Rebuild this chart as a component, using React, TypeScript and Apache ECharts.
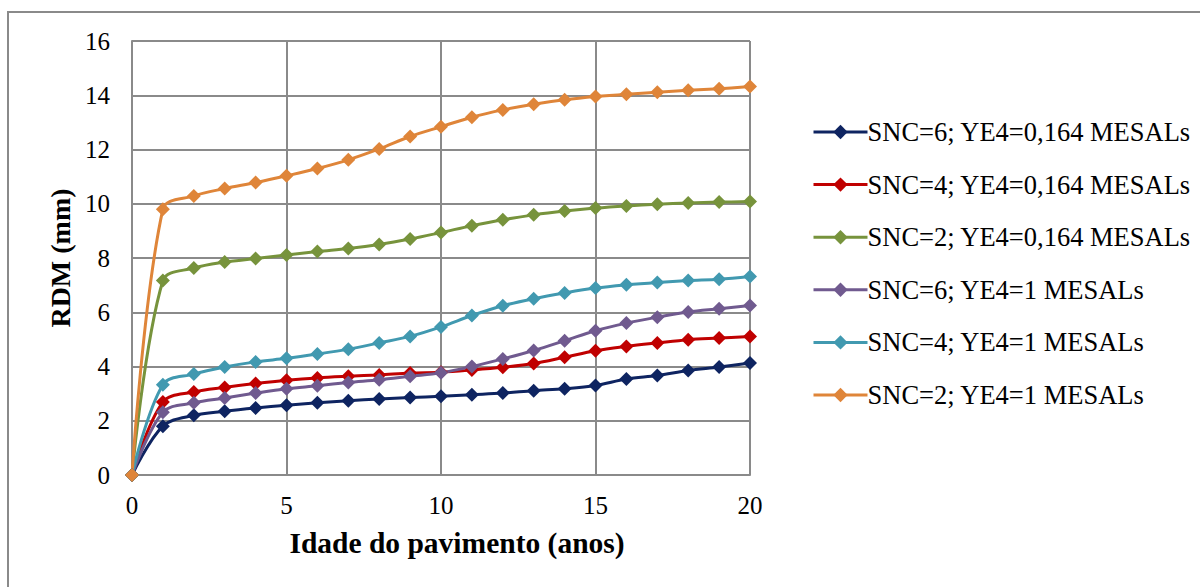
import React, { useEffect, useRef } from "react";
import * as echarts from "echarts";

// Idade do pavimento (anos)
const years = [0, 1, 2, 3, 4, 5, 6, 7, 8, 9, 10, 11, 12, 13, 14, 15, 16, 17, 18, 19, 20];

// RDM (mm) por cenário
const snc6Low = [0, 1.8, 2.2, 2.35, 2.47, 2.57, 2.66, 2.74, 2.8, 2.86, 2.9, 2.96, 3.02, 3.11, 3.18, 3.3, 3.54, 3.67, 3.85, 3.98, 4.13];
const snc4Low = [0, 2.69, 3.06, 3.23, 3.37, 3.49, 3.58, 3.64, 3.69, 3.76, 3.79, 3.87, 3.97, 4.11, 4.34, 4.58, 4.74, 4.87, 4.99, 5.05, 5.11];
const snc2Low = [0, 7.17, 7.63, 7.85, 7.98, 8.11, 8.24, 8.35, 8.5, 8.7, 8.94, 9.19, 9.41, 9.59, 9.73, 9.84, 9.92, 9.98, 10.03, 10.06, 10.08];
const snc6High = [0, 2.31, 2.66, 2.84, 3.02, 3.18, 3.29, 3.41, 3.51, 3.64, 3.77, 4.0, 4.28, 4.59, 4.95, 5.32, 5.6, 5.82, 6.01, 6.13, 6.25];
const snc4High = [0, 3.33, 3.72, 3.98, 4.17, 4.3, 4.46, 4.64, 4.87, 5.11, 5.46, 5.88, 6.24, 6.5, 6.71, 6.89, 7.01, 7.1, 7.17, 7.22, 7.32];
const snc2High = [0, 9.8, 10.29, 10.56, 10.78, 11.03, 11.3, 11.62, 12.02, 12.48, 12.84, 13.19, 13.46, 13.67, 13.83, 13.95, 14.04, 14.11, 14.18, 14.24, 14.32];

const seriesNames = [
  "SNC=6; YE4=0,164 MESALs",
  "SNC=4; YE4=0,164 MESALs",
  "SNC=2; YE4=0,164 MESALs",
  "SNC=6; YE4=1 MESALs",
  "SNC=4; YE4=1 MESALs",
  "SNC=2; YE4=1 MESALs",
];
const seriesValues = [snc6Low, snc4Low, snc2Low, snc6High, snc4High, snc2High];
const seriesColors = ["#0E2461", "#C00000", "#77933C", "#705A8F", "#4199B0", "#DF8539"];

const FONT = "Liberation Serif";
const GRID = "#8A8A8A";

export default function App() {
  const ref = useRef<HTMLDivElement>(null);

  useEffect(() => {
    if (!ref.current) return;
    const chart = echarts.init(ref.current, undefined, { renderer: "svg" });

    const series = seriesNames.map((name, i) => ({
      name,
      type: "line",
      data: years.map((x, j) => [x, seriesValues[i][j]]),
      smooth: 0.35,
      symbol: "diamond",
      symbolSize: 14,
      lineStyle: { width: 3, color: seriesColors[i] },
      itemStyle: { color: seriesColors[i] },
      emphasis: { disabled: true },
    }));

    chart.setOption({
      animation: false,
      backgroundColor: "#ffffff",
      textStyle: { fontFamily: FONT },
      graphic: [
        {
          type: "rect",
          shape: { x: 8, y: 12, width: 1200, height: 600 },
          style: { fill: "none", stroke: GRID, lineWidth: 2 },
          z: -10,
        },
      ],
      grid: { left: 132, right: 450, top: 41, bottom: 112, containLabel: false },
      legend: {
        orient: "vertical",
        left: 807,
        top: 112,
        itemWidth: 54,
        itemHeight: 18,
        itemGap: 22.6,
        lineStyle: { width: 3 },
        textStyle: { fontFamily: FONT, fontSize: 26.5, color: "#000", lineHeight: 30, padding: [0, 0, 0, -5] },
        data: seriesNames,
      },
      xAxis: {
        type: "value",
        min: 0,
        max: 20,
        interval: 5,
        name: "Idade do pavimento (anos)",
        nameLocation: "middle",
        nameGap: 53,
        nameTextStyle: {
          fontFamily: FONT,
          fontSize: 29.5,
          fontWeight: "bold",
          color: "#000",
          padding: [0, 0, 0, 32],
        },
        axisLine: { show: true, lineStyle: { color: GRID, width: 2 } },
        axisTick: { show: false },
        axisLabel: { fontFamily: FONT, fontSize: 25, color: "#000", margin: 18 },
        splitLine: { show: true, lineStyle: { color: GRID, width: 2 } },
      },
      yAxis: {
        type: "value",
        min: 0,
        max: 16,
        interval: 2,
        name: "RDM (mm)",
        nameLocation: "middle",
        nameRotate: 90,
        nameGap: 56,
        nameTextStyle: { fontFamily: FONT, fontSize: 28, fontWeight: "bold", color: "#000" },
        axisLine: { show: true, lineStyle: { color: GRID, width: 2 } },
        axisTick: { show: false },
        axisLabel: { fontFamily: FONT, fontSize: 25, color: "#000", margin: 22 },
        splitLine: { show: true, lineStyle: { color: GRID, width: 2 } },
      },
      series,
    });

    return () => chart.dispose();
  }, []);

  return (
    <div
      ref={ref}
      style={{ position: "fixed", left: 0, top: 0, width: 1200, height: 587, background: "#fff" }}
    />
  );
}
